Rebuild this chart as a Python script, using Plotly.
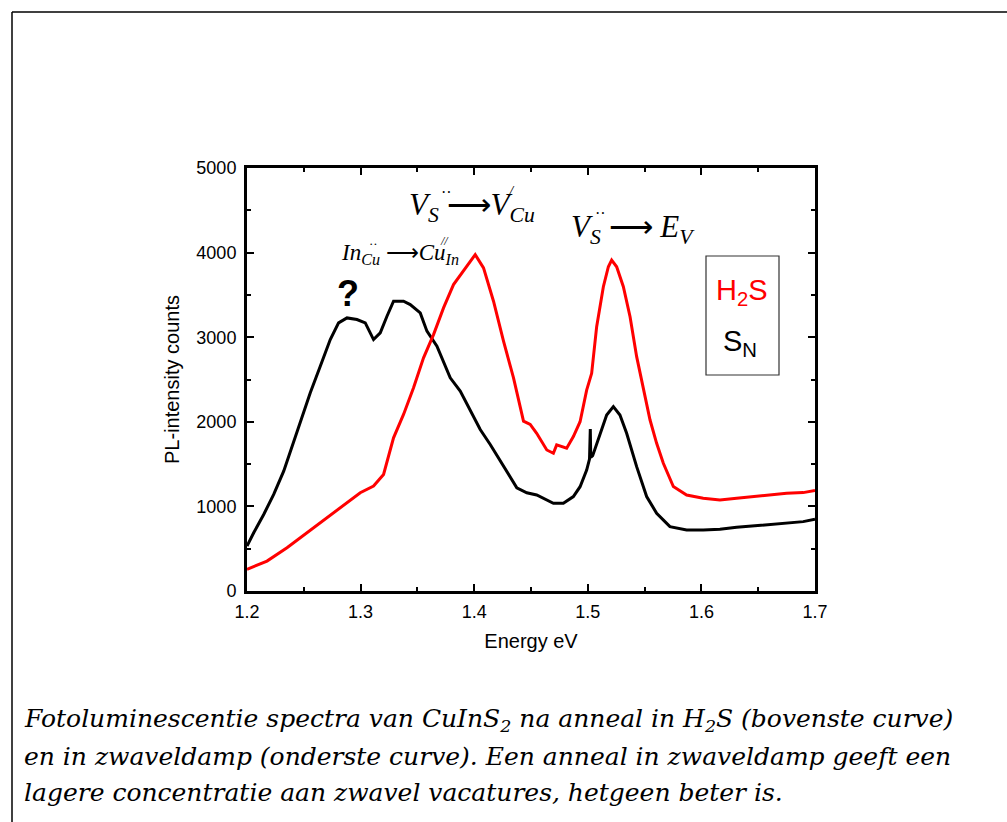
import plotly.graph_objects as go

# ---------------- data ----------------
energy_sn = [1.2, 1.2059, 1.2147, 1.2235, 1.2323, 1.2396, 1.2484, 1.2557, 1.2645, 1.2733,
             1.2806, 1.288, 1.2968, 1.3041, 1.3114, 1.3173, 1.3232, 1.329, 1.3378, 1.3437,
             1.3525, 1.3584, 1.3672, 1.373, 1.3789, 1.3877, 1.3965, 1.4053, 1.4141, 1.4229,
             1.4317, 1.4375, 1.4463, 1.455, 1.4697, 1.4785, 1.4873, 1.4932, 1.499, 1.5015,
             1.5022, 1.5026, 1.5043, 1.5107, 1.5166, 1.5225, 1.5283, 1.5342, 1.543, 1.5518,
             1.5606, 1.5723, 1.587, 1.6016, 1.6163, 1.631, 1.6456, 1.6603, 1.675, 1.6896, 1.7]
counts_sn = [531, 689, 905, 1142, 1417, 1713, 2047, 2343, 2657, 2972,
             3169, 3228, 3209, 3169, 2972, 3051, 3248, 3425, 3425, 3386,
             3287, 3071, 2894, 2717, 2520, 2362, 2126, 1909, 1732, 1535,
             1339, 1220, 1161, 1135, 1037, 1037, 1116, 1233, 1430, 1560,
             1915, 1580, 1600, 1864, 2080, 2179, 2080, 1864, 1470, 1116,
             919, 761, 722, 722, 729, 753, 769, 793, 808, 820, 847]

energy_h2s = [1.2, 1.2176, 1.2352, 1.2528, 1.2704, 1.285, 1.2997, 1.3114, 1.3202, 1.329,
              1.3378, 1.3466, 1.3554, 1.3642, 1.373, 1.3818, 1.3906, 1.4009, 1.4082, 1.417,
              1.4258, 1.4346, 1.4434, 1.4493, 1.455, 1.4639, 1.4697, 1.4726, 1.4814, 1.4873,
              1.4932, 1.499, 1.5034, 1.5078, 1.5137, 1.5181, 1.521, 1.5254, 1.5313, 1.5372,
              1.543, 1.5489, 1.5548, 1.5606, 1.5665, 1.5753, 1.587, 1.6016, 1.6163, 1.631,
              1.6456, 1.6603, 1.675, 1.6896, 1.7]
counts_h2s = [256, 354, 512, 689, 866, 1004, 1161, 1240, 1378, 1811,
              2087, 2402, 2756, 3031, 3346, 3622, 3780, 3976, 3819, 3425,
              2953, 2520, 2008, 1969, 1864, 1667, 1628, 1727, 1688, 1825,
              2001, 2375, 2573, 3124, 3597, 3833, 3912, 3833, 3597, 3242,
              2770, 2415, 2021, 1746, 1509, 1234, 1135, 1096, 1076, 1096,
              1116, 1135, 1155, 1163, 1187]

x_ticks = [1.2, 1.3, 1.4, 1.5, 1.6, 1.7]
y_ticks = [0, 1000, 2000, 3000, 4000, 5000]

caption_lines = [
    "Fotoluminescentie spectra van CuInS<sub>2</sub> na anneal in H<sub>2</sub>S (bovenste curve)",
    "en in zwaveldamp (onderste curve). Een anneal in zwaveldamp geeft een",
    "lagere concentratie aan zwavel vacatures, hetgeen beter is.",
]

# ---------------- layout geometry ----------------
W, H = 1007, 822
L, R, T, B = 247, 815, 168, 591


def px(x):  # page pixel -> paper x
    return (x - L) / (R - L)


def py(y):  # page pixel -> paper y
    return (B - y) / (B - T)


fig = go.Figure()
fig.add_trace(go.Scatter(x=energy_sn, y=counts_sn, mode="lines",
                         line=dict(color="black", width=3), showlegend=False))
fig.add_trace(go.Scatter(x=energy_h2s, y=counts_h2s, mode="lines",
                         line=dict(color="#ff0000", width=3), showlegend=False))

sans = "Arial, Liberation Sans, sans-serif"
axis_common = dict(
    showgrid=False, zeroline=False, showline=True, linecolor="black", linewidth=3,
    mirror="allticks", ticks="inside", ticklen=7, tickwidth=2, tickcolor="black",
    tickfont=dict(family=sans, size=18, color="black"),
)

fig.update_xaxes(range=[1.2, 1.7], tickvals=x_ticks, ticktext=[f"{v:.1f}" for v in x_ticks],
                 ticklabelstandoff=2,
                 minor=dict(ticks="inside", ticklen=4, tickwidth=2, tickcolor="black", dtick=0.05, showgrid=False),
                 title=dict(text="Energy eV", font=dict(family=sans, size=20, color="black"), standoff=14),
                 **axis_common)
fig.update_yaxes(range=[0, 5000], tickvals=y_ticks, ticktext=[str(v) for v in y_ticks],
                 ticklabelstandoff=4,
                 minor=dict(ticks="inside", ticklen=4, tickwidth=2, tickcolor="black", dtick=500, showgrid=False),
                 title=dict(text="PL-intensity counts", font=dict(family=sans, size=20, color="black"), standoff=12),
                 **axis_common)

serif = "Liberation Serif, Times New Roman, serif"
arrow = "⟶"
ann = []
# formula 1  V_S.. -> V_Cu/
ann.append(dict(x=px(472), y=py(207), text=f"<i>V</i><sub><i>S</i></sub> {arrow}<i>V</i><sub><i>Cu</i></sub>",
                font=dict(family=serif, size=31, color="black")))
ann.append(dict(x=px(446), y=py(192), text="··", font=dict(family=serif, size=16, color="black")))
ann.append(dict(x=px(511), y=py(191), text="<i>/</i>", font=dict(family=serif, size=15, color="black")))
# formula 2  V_S.. -> E_V
ann.append(dict(x=px(633), y=py(229), text=f"<i>V</i><sub><i>S</i></sub> {arrow} <i>E</i><sub><i>V</i></sub>",
                font=dict(family=serif, size=31, color="black")))
ann.append(dict(x=px(600), y=py(213), text="··", font=dict(family=serif, size=16, color="black")))
# formula 3  In_Cu.. -> Cu_In//
ann.append(dict(x=px(400), y=py(254), text=f"<i>In</i><sub><i>Cu</i></sub> {arrow}<i>Cu</i><sub><i>In</i></sub>",
                font=dict(family=serif, size=23, color="black")))
ann.append(dict(x=px(373), y=py(243), text="··", font=dict(family=serif, size=13, color="black")))
ann.append(dict(x=px(444), y=py(241), text="<i>//</i>", font=dict(family=serif, size=12, color="black")))
# question mark
ann.append(dict(x=px(348), y=py(293), text="<b>?</b>", font=dict(family=sans, size=36, color="black")))
# legend box labels
ann.append(dict(x=px(742), y=py(292), text="H<sub>2</sub>S", font=dict(family=sans, size=29, color="#ff0000")))
ann.append(dict(x=px(740), y=py(343), text="S<sub>N</sub>", font=dict(family=sans, size=29, color="black")))
# caption
cap_font = "DejaVu Serif, serif"
for i, line in enumerate(caption_lines):
    ann.append(dict(x=px(22), y=py(720 + i * 36), text=f"<i>{line}</i>", xanchor="left",
                    font=dict(family=cap_font, size=25, color="black")))

for a in ann:
    a.setdefault("xanchor", "center")
    a.update(xref="paper", yref="paper", yanchor="middle", showarrow=False)

shapes = [
    # legend box
    dict(type="rect", xref="paper", yref="paper", x0=px(706), x1=px(779), y0=py(375), y1=py(256),
         line=dict(color="#333333", width=1.2)),
    # outer page frame
    dict(type="line", xref="paper", yref="paper", x0=px(12), x1=px(1010), y0=py(12), y1=py(12),
         line=dict(color="black", width=1.5)),
    dict(type="line", xref="paper", yref="paper", x0=px(12), x1=px(12), y0=py(12), y1=py(830),
         line=dict(color="black", width=1.5)),
]

fig.update_layout(
    width=W, height=H, autosize=False,
    margin=dict(l=L, r=W - R, t=T, b=H - B, pad=0),
    paper_bgcolor="white", plot_bgcolor="white",
    annotations=ann, shapes=shapes, showlegend=False,
)

fig.write_html("out.html")
